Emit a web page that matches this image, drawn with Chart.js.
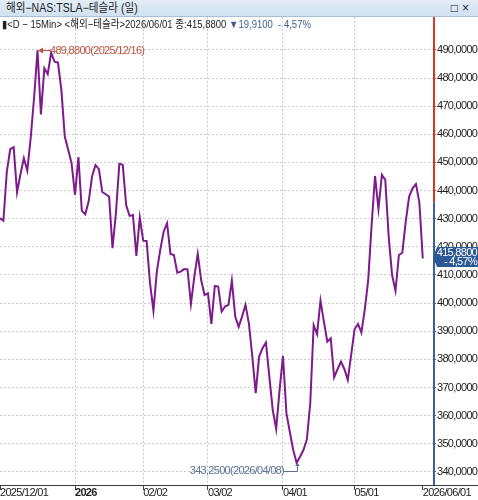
<!DOCTYPE html>
<html>
<head>
<meta charset="utf-8">
<script src="https://cdn.jsdelivr.net/npm/chart.js@4.4.1/dist/chart.umd.min.js"></script>
<style>
  html, body { margin: 0; padding: 0; background: #fff; }
  #wrap { position: relative; width: 478px; height: 500px; overflow: hidden;
    font-family: "Liberation Sans", "Noto Sans CJK KR", sans-serif; }
  #bar { position: absolute; left: 0; top: 0; width: 478px; height: 16px; z-index: 2;
    background: linear-gradient(#e2edf7, #d0e1f0); border-bottom: 1px solid #a8bfd5;
    font-size: 12px; line-height: 16px; color: #222; }
  #bar .t { position: absolute; left: 6px; top: 0; transform: scaleX(0.88); transform-origin: 0 0; white-space: nowrap; }
  #bar .b { position: absolute; right: 5px; top: 0; letter-spacing: 4px; }
  #info { position: absolute; left: 2px; top: 18px; z-index: 2; white-space: nowrap;
    font-size: 11px; line-height: 13px; color: #222; transform: scaleX(0.865); transform-origin: 0 0; }
  #info .d { color: #3b5e93; }
  canvas { position: absolute; left: 0; top: 0; }
</style>
</head>
<body>
<div id="wrap">
  <div id="bar"><span class="t">해외−NAS:TSLA−테슬라 (일)</span><span class="b">□×</span></div>
  <div id="info"></div>
  <canvas id="tsla" width="478" height="500"></canvas>
</div>
<script>
// trading days (last three are empty slots to the right of the last close)
const dates = [
  '2025/12/01','2025/12/02','2025/12/03','2025/12/04','2025/12/05','2025/12/08','2025/12/09','2025/12/10','2025/12/11','2025/12/12',
  '2025/12/15','2025/12/16','2025/12/17','2025/12/18','2025/12/19','2025/12/22','2025/12/23','2025/12/24','2025/12/26','2025/12/29',
  '2025/12/30','2025/12/31',
  '2026/01/02','2026/01/05','2026/01/06','2026/01/07','2026/01/08','2026/01/09','2026/01/12','2026/01/13','2026/01/14','2026/01/15',
  '2026/01/16','2026/01/20','2026/01/21','2026/01/22','2026/01/23','2026/01/26','2026/01/27','2026/01/28','2026/01/29','2026/01/30',
  '2026/02/02','2026/02/03','2026/02/04','2026/02/05','2026/02/06','2026/02/09','2026/02/10','2026/02/11','2026/02/12','2026/02/13',
  '2026/02/17','2026/02/18','2026/02/19','2026/02/20','2026/02/23','2026/02/24','2026/02/25','2026/02/26','2026/02/27',
  '2026/03/02','2026/03/03','2026/03/04','2026/03/05','2026/03/06','2026/03/09','2026/03/10','2026/03/11','2026/03/12','2026/03/13',
  '2026/03/16','2026/03/17','2026/03/18','2026/03/19','2026/03/20','2026/03/23','2026/03/24','2026/03/25','2026/03/26','2026/03/27',
  '2026/03/30','2026/03/31',
  '2026/04/01','2026/04/02','2026/04/06','2026/04/07','2026/04/08','2026/04/09','2026/04/10','2026/04/13','2026/04/14','2026/04/15',
  '2026/04/16','2026/04/17','2026/04/20','2026/04/21','2026/04/22','2026/04/23','2026/04/24','2026/04/27','2026/04/28','2026/04/29',
  '2026/04/30',
  '2026/05/01','2026/05/04','2026/05/05','2026/05/06','2026/05/07','2026/05/08','2026/05/11','2026/05/12','2026/05/13','2026/05/14',
  '2026/05/15','2026/05/18','2026/05/19','2026/05/20','2026/05/21','2026/05/22','2026/05/26','2026/05/27','2026/05/28','2026/05/29',
  '2026/06/01','2026/06/02','2026/06/03','2026/06/04'
];

const closes = [
  430.2, 429.3, 446.7, 454.7, 455.4, 439.4, 445.8, 451.5, 447.1, 458.6,
  473.0, 489.88, 467.1, 483.5, 481.4, 489.0, 485.8, 485.5, 475.8, 459.2,
  454.5, 449.7, 438.5, 451.9, 432.8, 431.6, 436.1, 445.0, 449.1, 447.6,
  439.5, 438.7, 437.9, 419.5, 432.0, 449.5, 449.2, 434.9, 431.0, 431.3,
  416.8, 430.4, 422.2, 422.1, 407.1, 397.3, 411.2, 418.9, 425.4, 428.4,
  417.5, 417.1, 410.8, 411.2, 412.1, 412.0, 399.7, 409.4, 417.5, 408.2,
  402.9, 403.5, 392.6, 406.1, 405.9, 397.0, 398.8, 399.4, 408.0, 395.2,
  391.6, 395.2, 399.4, 392.8, 381.0, 368.0, 381.0, 384.0, 386.0, 373.9,
  362.0, 355.3, 369.1, 381.3, 360.9, 354.3, 347.8, 343.25, 345.4, 347.8,
  351.5, 364.4, 392.2, 389.0, 400.9, 393.4, 386.3, 387.5, 373.6, 376.5,
  379.2, 376.6, 372.7, 381.6, 390.7, 392.6, 389.5, 397.8, 408.2, 427.8,
  445.2, 433.4, 445.6, 443.8, 423.7, 410.0, 404.4, 417.1, 417.9, 429.0,
  437.9, 440.8, 442.3, 435.79, 415.88
];

const xTickDates = ['2025/12/01', '2026/01/02', '2026/02/02', '2026/03/02', '2026/04/01', '2026/05/01', '2026/06/01'];
const xTickLabels = ['2025/12/01', '2026', '02/02', '03/02', '04/01', '05/01', '2026/06/01'];
const yTicks = [340, 345, 350, 355, 360, 365, 370, 375, 380, 385, 390, 395, 400, 405, 410, 415,
  420, 425, 430, 435, 440, 445, 450, 455, 460, 465, 470, 475, 480, 485, 490];
const yMin = 335.36;
const yMax = 501.7;

const FONT = '"Liberation Sans", "Noto Sans CJK KR", sans-serif';
const SQUEEZE = '-0.7px';
const UP = '#cf3a2c';
const DOWN = '#3d619c';

const last = closes[closes.length - 1];
const prevClose = closes[closes.length - 2];
const fmt = (v, d = 4) => v.toFixed(d).replace('.', ',');
const chg = last - prevClose;
const pct = chg / prevClose * 100;

document.getElementById('info').innerHTML =
  '▮&lt;D − 15Min&gt; &lt;해외−테슬라&gt;' + dates[closes.length - 1] + ' 종:' + fmt(last) +
  ' <span class="d">' + (chg < 0 ? '▼' : '▲') + fmt(Math.abs(chg)) + ' &nbsp;' +
  (pct < 0 ? '- ' : '') + fmt(Math.abs(pct), 2) + '%</span>';

// narrow the canvas text a little, the original uses a condensed bitmap font
const squeeze = {
  id: 'squeeze',
  beforeDraw(chart) { chart.ctx.letterSpacing = SQUEEZE; }
};

const overlay = {
  id: 'overlay',
  afterDraw(chart) {
    const { ctx, chartArea: a, scales: { x, y } } = chart;
    ctx.save();

    // time axis base line
    ctx.strokeStyle = '#3a3a3a';
    ctx.lineWidth = 1;
    ctx.beginPath();
    ctx.moveTo(0, a.bottom + 0.5);
    ctx.lineTo(chart.width, a.bottom + 0.5);
    ctx.stroke();

    // price axis, red above previous close, blue below
    const yp = y.getPixelForValue(prevClose);
    ctx.lineWidth = 2;
    ctx.strokeStyle = UP;
    ctx.beginPath(); ctx.moveTo(a.right + 1, a.top); ctx.lineTo(a.right + 1, yp); ctx.stroke();
    ctx.strokeStyle = DOWN;
    ctx.beginPath(); ctx.moveTo(a.right + 1, yp); ctx.lineTo(a.right + 1, a.bottom); ctx.stroke();

    ctx.font = '11px ' + FONT;
    ctx.letterSpacing = SQUEEZE;
    ctx.textBaseline = 'middle';
    ctx.lineWidth = 1;

    // high marker
    const hi = closes.indexOf(Math.max(...closes));
    const hx = Math.round(x.getPixelForValue(hi)), hy = Math.round(y.getPixelForValue(closes[hi]));
    ctx.strokeStyle = ctx.fillStyle = '#c0533f';
    ctx.beginPath(); ctx.moveTo(hx + 1, hy + 0.5); ctx.lineTo(hx + 12, hy + 0.5); ctx.stroke();
    ctx.beginPath(); ctx.moveTo(hx, hy + 0.5); ctx.lineTo(hx + 5, hy - 2.5); ctx.lineTo(hx + 5, hy + 3.5); ctx.fill();
    ctx.textAlign = 'left';
    ctx.fillText(fmt(closes[hi]) + '(' + dates[hi] + ')', hx + 12, hy + 1);

    // low marker
    const lo = closes.indexOf(Math.min(...closes));
    const lx = Math.round(x.getPixelForValue(lo)), ly = Math.round(y.getPixelForValue(closes[lo]));
    ctx.strokeStyle = ctx.fillStyle = '#5b7196';
    ctx.beginPath();
    ctx.moveTo(lx - 13, ly + 8.5); ctx.lineTo(lx + 0.5, ly + 8.5); ctx.lineTo(lx + 0.5, ly + 1);
    ctx.stroke();
    ctx.beginPath(); ctx.moveTo(lx + 0.5, ly); ctx.lineTo(lx - 2, ly + 3); ctx.lineTo(lx + 3, ly + 3); ctx.fill();
    ctx.textAlign = 'right';
    ctx.fillText(fmt(closes[lo]) + '(' + dates[lo] + ')', lx - 13, ly + 8);

    // last price box
    const cy = Math.round(y.getPixelForValue(last));
    ctx.fillStyle = '#2c5895';
    ctx.beginPath();
    ctx.moveTo(a.right, cy - 1);
    ctx.lineTo(a.right + 4, cy - 11);
    ctx.lineTo(chart.width, cy - 11);
    ctx.lineTo(chart.width, cy + 9);
    ctx.lineTo(a.right + 4, cy + 9);
    ctx.closePath();
    ctx.fill();
    ctx.fillStyle = '#fff';
    ctx.textAlign = 'right';
    ctx.fillText(fmt(last), chart.width - 1, cy - 5);
    ctx.fillText((pct < 0 ? '- ' : '') + fmt(Math.abs(pct), 2) + '%', chart.width - 1, cy + 4);

    ctx.restore();
  }
};

new Chart(document.getElementById('tsla'), {
  type: 'line',
  data: {
    labels: dates,
    datasets: [{
      data: closes,
      borderColor: '#7d1a8c',
      borderWidth: 2,
      pointRadius: 0,
      tension: 0
    }]
  },
  options: {
    responsive: false,
    animation: false,
    devicePixelRatio: 1,
    layout: { padding: { top: 17, left: 0, right: 0, bottom: 0 } },
    plugins: { legend: { display: false }, tooltip: { enabled: false } },
    scales: {
      x: {
        type: 'category',
        afterBuildTicks: s => { s.ticks = xTickDates.map(d => ({ value: dates.indexOf(d) })); },
        afterFit: s => { s.height = 15; },
        border: { display: false, dash: [2, 2] },
        grid: {
          color: c => (c.tick && (c.tick.value === 0 || c.tick.value === closes.length - 1)) ? 'transparent' : '#cdcdcd',
          tickColor: '#444',
          tickLength: 5
        },
        ticks: {
          autoSkip: false,
          maxRotation: 0,
          align: 'start',
          padding: -4,
          color: '#222',
          font: c => ({ family: FONT, size: 11, weight: (c.tick && dates[c.tick.value] === '2026/01/02') ? 'bold' : 'normal' }),
          callback: v => xTickLabels[xTickDates.indexOf(dates[v])]
        }
      },
      y: {
        position: 'right',
        min: yMin,
        max: yMax,
        afterBuildTicks: s => { s.ticks = yTicks.map(v => ({ value: v })); },
        afterFit: s => { s.width = 45; },
        border: { display: false, dash: [2, 2] },
        grid: {
          color: c => (c.tick && c.tick.value % 10 === 0) ? '#cdcdcd' : 'transparent',
          tickColor: c => (c.tick && c.tick.value > prevClose) ? UP : DOWN,
          tickLength: 3
        },
        ticks: {
          padding: 1,
          color: '#222',
          font: { family: FONT, size: 11 },
          callback: v => v % 10 === 0 ? fmt(v) : ''
        }
      }
    }
  },
  plugins: [squeeze, overlay]
});
</script>
</body>
</html>
